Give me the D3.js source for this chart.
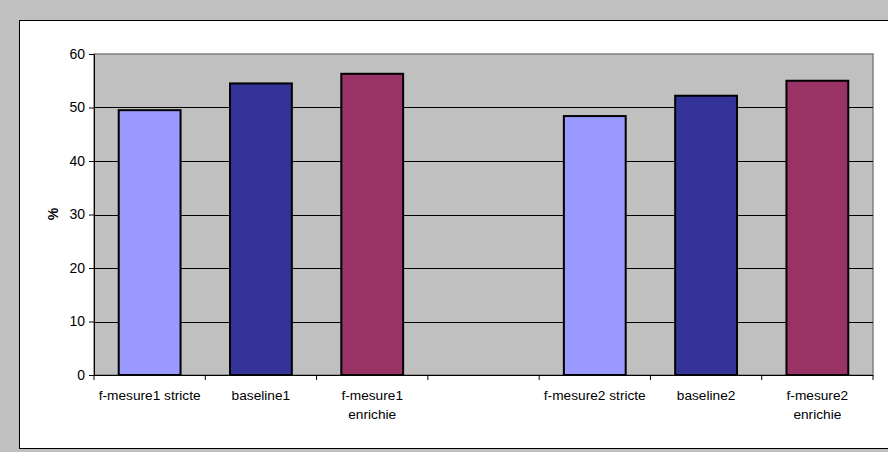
<!DOCTYPE html>
<html><head><meta charset="utf-8">
<script src="https://cdn.jsdelivr.net/npm/d3@7"></script>
<style>html,body{margin:0;padding:0;background:#c0c0c0;overflow:hidden}</style>
</head><body>
<script>
const categories = ["f-mesure1 stricte", "baseline1", "f-mesure1 enrichie", "", "f-mesure2 stricte", "baseline2", "f-mesure2 enrichie"];
const labelLines = [["f-mesure1 stricte"], ["baseline1"], ["f-mesure1", "enrichie"], [""], ["f-mesure2 stricte"], ["baseline2"], ["f-mesure2", "enrichie"]];
const values = [49.5, 54.5, 56.3, null, 48.4, 52.2, 55.0];
const colors = ["#9999ff", "#333399", "#993366", null, "#9999ff", "#333399", "#993366"];
const yTicks = [0, 10, 20, 30, 40, 50, 60];

const W = 888, H = 452;
const FONT = "Liberation Sans, Arial, sans-serif";
const svg = d3.select("body").append("svg").attr("width", W).attr("height", H);
svg.append("rect").attr("x", 0).attr("y", 0).attr("width", W).attr("height", H).attr("fill", "#c0c0c0");
svg.append("rect").attr("x", 19.5).attr("y", 20.5).attr("width", W).attr("height", 428)
  .attr("fill", "#fff").attr("stroke", "#000").attr("stroke-width", 1);

const L = 94, R = 873, T = 54, B = 375;
const x = d3.scaleBand().domain(categories.map((c, i) => i)).range([L, R]).paddingInner(0.8/1.8).paddingOuter(0.4/1.8);
const xb = d3.scaleBand().domain(categories.map((c, i) => i)).range([L, R]);
const y = d3.scaleLinear().domain([0, 60]).range([B, T]);

svg.append("rect").attr("x", L).attr("y", T).attr("width", R - L).attr("height", B - T)
  .attr("fill", "#c0c0c0").attr("stroke", "#808080").attr("stroke-width", 1.5);

svg.append("g").selectAll("line").data(yTicks.filter(d => d > 0 && d < 60)).join("line")
  .attr("x1", L).attr("x2", R).attr("y1", d => Math.round(y(d)) + 0.5).attr("y2", d => Math.round(y(d)) + 0.5)
  .attr("stroke", "#000").attr("stroke-width", 1);

svg.append("g").selectAll("rect").data(values.map((v, i) => ({v, i})).filter(d => d.v != null)).join("rect")
  .attr("x", d => x(d.i)).attr("width", x.bandwidth())
  .attr("y", d => y(d.v)).attr("height", d => B - y(d.v))
  .attr("fill", d => colors[d.i]).attr("stroke", "#000").attr("stroke-width", 2);

// y axis
const ya = d3.axisLeft(y).tickValues(yTicks).tickSize(5).tickPadding(4).tickFormat(d3.format("d"));
const gy = svg.append("g").attr("transform", `translate(${L},0)`).call(ya);
gy.select(".domain").attr("stroke", "#000");
gy.selectAll(".tick line").attr("stroke", "#000");
gy.selectAll("text").attr("font-family", FONT).attr("font-size", 14).attr("fill", "#000");

// x axis
svg.append("line").attr("x1", L).attr("x2", R).attr("y1", B + 0.5).attr("y2", B + 0.5).attr("stroke", "#000");
svg.append("g").selectAll("line").data(d3.range(categories.length + 1)).join("line")
  .attr("x1", i => (i < categories.length ? xb(i) : R)).attr("x2", i => (i < categories.length ? xb(i) : R))
  .attr("y1", B).attr("y2", B + 5).attr("stroke", "#000");

const lab = svg.append("g").attr("font-family", FONT).attr("font-size", 13.7).attr("fill", "#000").attr("text-anchor", "middle");
labelLines.forEach((lines, i) => {
  lines.forEach((t, j) => {
    lab.append("text").attr("x", xb(i) + xb.bandwidth() / 2).attr("y", 400 + j * 19).text(t);
  });
});

svg.append("text").attr("transform", "translate(58,214) rotate(-90)").attr("text-anchor", "middle")
  .attr("font-family", FONT).attr("font-size", 14).attr("font-weight", "bold").text("%");
</script>
</body></html>
